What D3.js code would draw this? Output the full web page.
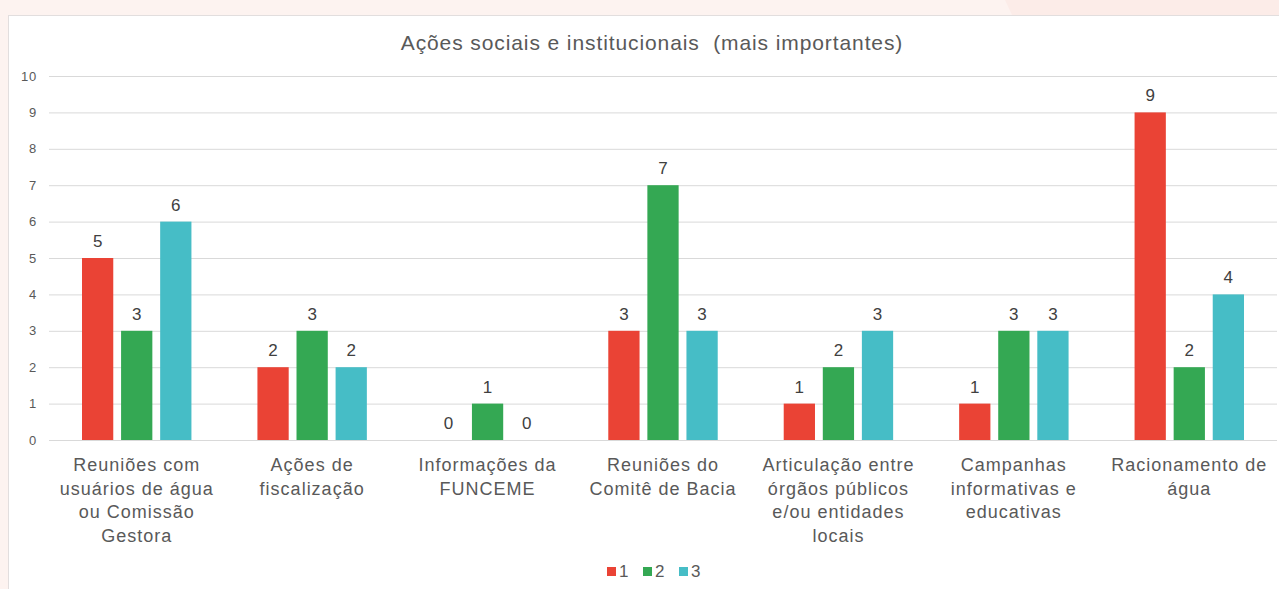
<!DOCTYPE html>
<html>
<head>
<meta charset="utf-8">
<script src="https://cdn.jsdelivr.net/npm/d3@7"></script>
<style>
  html, body { margin: 0; padding: 0; background: #fdf3f0; }
  #chart { position: relative; width: 1279px; height: 589px; overflow: hidden; }
  svg { display: block; font-family: 'Liberation Sans', Arial, sans-serif; }
</style>
</head>
<body>
<div id="chart"></div>
<script>
const title = 'Ações sociais e institucionais  (mais importantes)';

const categories = [
  'Reuniões com\nusuários de água\nou Comissão\nGestora',
  'Ações de\nfiscalização',
  'Informações da\nFUNCEME',
  'Reuniões do\nComitê de Bacia',
  'Articulação entre\nórgãos públicos\ne/ou entidades\nlocais',
  'Campanhas\ninformativas e\neducativas',
  'Racionamento de\nágua'
];

const seriesNames = ['1', '2', '3'];
const series1 = [5, 2, 0, 3, 1, 1, 9];
const series2 = [3, 3, 1, 7, 2, 3, 2];
const series3 = [6, 2, 0, 3, 3, 3, 4];
const yTicks = [0, 1, 2, 3, 4, 5, 6, 7, 8, 9, 10];

const colours = ['#ea4335', '#34a853', '#46bdc6'];

const W = 1279, H = 589;
const margin = { top: 76, right: 2, bottom: 149, left: 49 };
const width = W - margin.left - margin.right;
const height = H - margin.top - margin.bottom;

const $svg = d3.select('#chart').append('svg')
  .attr('width', W)
  .attr('height', H);

// page background patch + white card
$svg.append('path')
  .attr('d', 'M1005,0 L1279,0 L1279,15 L1012,15 Z')
  .attr('fill', '#fcece8');
$svg.append('rect')
  .attr('x', 8.5).attr('y', 15.5)
  .attr('width', W).attr('height', H)
  .attr('fill', '#fff')
  .attr('stroke', '#e2dede');

$svg.append('text')
  .attr('x', 652)
  .attr('y', 50)
  .attr('text-anchor', 'middle')
  .attr('font-size', 21)
  .attr('letter-spacing', 0.9)
  .style('white-space', 'pre')
  .attr('fill', '#595959')
  .text(title);

const $plot = $svg.append('g')
  .attr('transform', `translate(${margin.left}, ${margin.top})`);

const data = categories.map((c, i) => ({
  cat: c,
  values: [series1[i], series2[i], series3[i]]
}));

const x0 = d3.scaleBand()
  .domain(categories)
  .range([0, width])
  .paddingInner(0)
  .paddingOuter(0);

const x1 = d3.scaleBand()
  .domain(seriesNames)
  .range([33, x0.bandwidth() - 33])
  .paddingInner(0.2);

const y = d3.scaleLinear()
  .domain([0, 10])
  .range([height, 0]);

// gridlines
const yAxis = d3.axisLeft(y)
  .tickValues(yTicks)
  .tickSize(-width)
  .tickPadding(12);

$plot.append('g')
  .attr('class', 'axis y')
  .call(yAxis)
  .call(g => g.select('.domain').remove())
  .call(g => g.selectAll('.tick line').attr('stroke', '#d9d9d9'))
  .call(g => g.selectAll('.tick text')
    .attr('fill', '#595959')
    .attr('font-size', 13)
    .attr('letter-spacing', 0.8)
    .attr('font-family', "'Liberation Sans', Arial, sans-serif"));

const $groups = $plot.selectAll('.cat')
  .data(data)
  .enter()
  .append('g')
  .attr('class', 'cat')
  .attr('transform', d => `translate(${x0(d.cat)}, 0)`);

$groups.selectAll('rect')
  .data(d => d.values.map((v, i) => ({ key: seriesNames[i], value: v, i })))
  .enter()
  .append('rect')
  .attr('x', d => x1(d.key))
  .attr('y', d => y(d.value))
  .attr('width', x1.bandwidth())
  .attr('height', d => height - y(d.value))
  .attr('fill', d => colours[d.i]);

$groups.selectAll('.val')
  .data(d => d.values.map((v, i) => ({ key: seriesNames[i], value: v })))
  .enter()
  .append('text')
  .attr('class', 'val')
  .attr('x', d => x1(d.key) + x1.bandwidth() / 2)
  .attr('y', d => y(d.value) - 11)
  .attr('text-anchor', 'middle')
  .attr('font-size', 17)
  .attr('fill', '#404040')
  .text(d => d.value);

// category labels
$groups.append('text')
  .attr('class', 'cat-label')
  .attr('text-anchor', 'middle')
  .attr('font-size', 18)
  .attr('letter-spacing', 1)
  .attr('fill', '#595959')
  .each(function(d) {
    const lines = d.cat.split('\n');
    d3.select(this).selectAll('tspan')
      .data(lines)
      .enter()
      .append('tspan')
      .attr('x', x0.bandwidth() / 2)
      .attr('y', (l, i) => height + 31 + i * 23.7)
      .text(l => l);
  });

// legend
const $legend = $svg.append('g')
  .attr('transform', 'translate(607, 567)');

const $items = $legend.selectAll('g')
  .data(seriesNames)
  .enter()
  .append('g')
  .attr('transform', (d, i) => `translate(${i * 36}, 0)`);

$items.append('rect')
  .attr('width', 9)
  .attr('height', 9)
  .attr('fill', (d, i) => colours[i]);

$items.append('text')
  .attr('x', 12)
  .attr('y', 10)
  .attr('font-size', 17)
  .attr('fill', '#595959')
  .text(d => d);
</script>
</body>
</html>
